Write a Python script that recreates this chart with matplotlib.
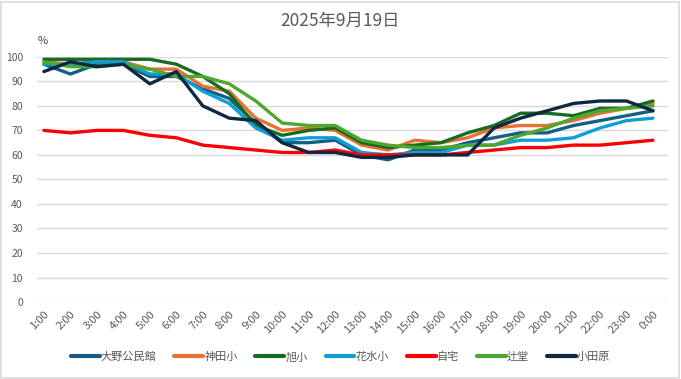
import matplotlib
matplotlib.use("Agg")
import matplotlib.pyplot as plt
from matplotlib.patches import Rectangle

plt.rcParams['font.family'] = ['Noto Sans CJK JP', 'DejaVu Sans']

hours = ["1:00", "2:00", "3:00", "4:00", "5:00", "6:00", "7:00", "8:00", "9:00", "10:00",
         "11:00", "12:00", "13:00", "14:00", "15:00", "16:00", "17:00", "18:00", "19:00",
         "20:00", "21:00", "22:00", "23:00", "0:00"]

ono = [97, 93, 97, 97, 92, 92, 87, 83, 73, 65, 65, 66, 60, 58, 62, 62, 65, 67, 69, 69, 72, 74, 76, 78]
kanda = [98, 97, 98, 98, 95, 95, 88, 86, 75, 70, 71, 70, 64, 62, 66, 65, 67, 71, 72, 72, 74, 77, 79, 81]
asahi = [99, 99, 99, 99, 99, 97, 92, 85, 72, 68, 70, 71, 65, 63, 64, 65, 69, 72, 77, 77, 76, 79, 79, 82]
hanamizu = [97, 97, 98, 98, 93, 93, 86, 81, 71, 66, 67, 67, 61, 60, 61, 61, 64, 64, 66, 66, 67, 71, 74, 75]
jitaku = [70, 69, 70, 70, 68, 67, 64, 63, 62, 61, 61, 62, 60, 60, 60, 60, 61, 62, 63, 63, 64, 64, 65, 66]
tsujido = [98, 96, 96, 97, 95, 92, 92, 89, 82, 73, 72, 72, 66, 64, 63, 63, 64, 64, 68, 71, 75, 78, 79, 80]
odawara = [94, 98, 96, 97, 89, 94, 80, 75, 74, 65, 61, 61, 59, 59, 60, 60, 60, 71, 75, 78, 81, 82, 82, 78]

series = [
    ("大野公民館", ono, "#156082"),
    ("神田小", kanda, "#E97132"),
    ("旭小", asahi, "#196B24"),
    ("花水小", hanamizu, "#0F9ED5"),
    ("自宅", jitaku, "#FF0000"),
    ("辻堂", tsujido, "#4EA72E"),
    ("小田原", odawara, "#0E2841"),
]

fig = plt.figure(figsize=(6.81, 3.79), dpi=100)
fig.patch.set_facecolor("white")
fig.patches.append(Rectangle((0.002, 0.003), 0.995, 0.993, transform=fig.transFigure,
                             fill=False, edgecolor="#D9D9D9", linewidth=1.2))

ax = fig.add_axes([0.054, 0.203, 0.927, 0.647])
x = list(range(len(hours)))
for name, vals, col in series:
    ax.plot(x, vals, color=col, lw=2.4, label=name, solid_joinstyle="round", solid_capstyle="round")

ax.set_ylim(0, 100)
ax.set_xlim(-0.27, 23.57)
ax.set_yticks(range(0, 101, 10))
ax.set_xticks(x)
ax.set_xticklabels(hours, rotation=45, ha="right", rotation_mode="anchor")
ax.tick_params(axis="both", length=0, labelsize=7.5, colors="#595959")
ax.tick_params(axis="x", labelsize=8, pad=5)
ax.tick_params(axis="y", pad=10)
ax.grid(axis="y", color="#D9D9D9", lw=1)
ax.set_axisbelow(True)
for s in ax.spines.values():
    s.set_visible(False)

fig.text(0.063, 0.893, "%", fontsize=8, color="#404040", ha="center", va="center")
fig.text(0.5, 0.945, "2025年9月19日", fontsize=12.5, color="#595959", ha="center", va="center")

leg = fig.legend(loc="center", bbox_to_anchor=(0.5, 0.058), ncol=7, frameon=False,
                 fontsize=8, handlelength=2.6, handletextpad=0.1, columnspacing=1.6)
for t in leg.get_texts():
    t.set_color("#595959")
for h in leg.get_lines():
    h.set_linewidth(3)

fig.savefig("out.png", dpi=100, facecolor="white")
